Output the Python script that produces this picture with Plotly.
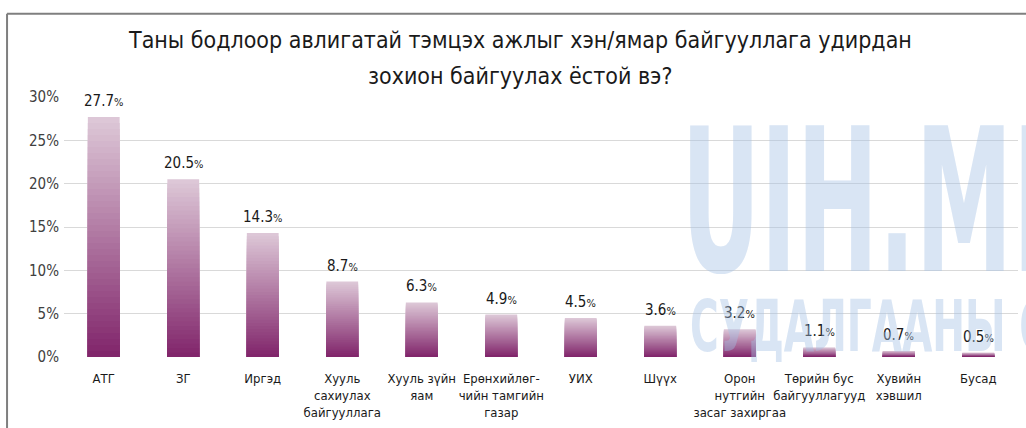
import plotly.graph_objects as go

categories = ["АТГ", "ЗГ", "Иргэд", "Хууль<br>сахиулах<br>байгууллага", "Хууль зүйн<br>яам",
              "Ерөнхийлөг-<br>чийн тамгийн<br>газар", "УИХ", "Шүүх", "Орон<br>нутгийн<br>засаг захиргаа",
              "Төрийн бус<br>байгууллагууд", "Хувийн<br>хэвшил", "Бусад"]
values = [27.7, 20.5, 14.3, 8.7, 6.3, 4.9, 4.5, 3.6, 3.2, 1.1, 0.7, 0.5]
y_ticks = [0, 5, 10, 15, 20, 25, 30]
y_ticklabels = ["0%", "5%", "10%", "15%", "20%", "25%", "30%"]
title_lines = ["Таны бодлоор авлигатай тэмцэх ажлыг хэн/ямар байгууллага удирдан",
               "зохион байгуулах ёстой вэ?"]
watermark_big = "UIH.MN"
watermark_small = "СУДАЛГААНЫ С"

FONT = "DejaVu Sans Condensed, Liberation Sans Narrow, Roboto, sans-serif"
top_rgb = (222, 201, 216)
bot_rgb = (128, 36, 106)
N = 40

fig = go.Figure()
xs = list(range(len(categories)))
for k in range(N):
    frac = (N - k) / N          # this bar covers [0, v*frac]
    t = (N - k - 0.5) / N       # colour position: 1 = top, 0 = bottom
    c = tuple(round(bot_rgb[i] + (top_rgb[i] - bot_rgb[i]) * t) for i in range(3))
    fig.add_trace(go.Bar(
        x=xs, y=[v * frac for v in values],
        marker=dict(color="rgb(%d,%d,%d)" % c, line=dict(width=0)),
        width=0.4, showlegend=False, hoverinfo="skip"))

annotations = []
for i, v in enumerate(values):
    annotations.append(dict(
        x=i, y=v, xref="x", yref="y", yanchor="bottom", yshift=5, showarrow=False,
        text="%.1f<span style='font-size:11px'>%%</span>" % v,
        font=dict(family=FONT, size=15, color="#1a1a1a")))

# watermark
annotations.append(dict(x=0.864, y=0.60, xref="paper", yref="paper", xanchor="center", yanchor="middle",
                        showarrow=False, text=watermark_big,
                        font=dict(family=FONT, size=200, weight=700, color="rgba(165,192,228,0.42)")))
annotations.append(dict(x=0.844, y=0.12, xref="paper", yref="paper", xanchor="center", yanchor="middle",
                        showarrow=False, text=watermark_small,
                        font=dict(family=FONT, size=72, weight=700, color="rgba(165,192,228,0.42)")))

# title
annotations.append(dict(x=0.478, y=1.219, xref="paper", yref="paper", xanchor="center", yanchor="middle",
                        showarrow=False, text=title_lines[0],
                        font=dict(family=FONT, size=23, color="#1a1a1a")))
annotations.append(dict(x=0.478, y=1.081, xref="paper", yref="paper", xanchor="center", yanchor="middle",
                        showarrow=False, text=title_lines[1],
                        font=dict(family=FONT, size=23, color="#1a1a1a")))

shapes = [
    dict(type="line", xref="paper", yref="paper", x0=-0.0597, x1=1.01, y0=1.32, y1=1.32,
         line=dict(color="#7f7f7f", width=2)),
    dict(type="line", xref="paper", yref="paper", x0=-0.0597, x1=-0.0597, y0=1.32, y1=-0.3,
         line=dict(color="#7f7f7f", width=2)),
]

fig.update_layout(
    barmode="overlay",
    width=1026, height=428,
    margin=dict(l=64, r=8, t=97, b=71, autoexpand=False),
    paper_bgcolor="white", plot_bgcolor="white",
    font=dict(family=FONT, color="#333333"),
    annotations=annotations, shapes=shapes,
    xaxis=dict(tickmode="array", tickvals=xs, ticktext=categories, range=[-0.5, len(categories) - 0.5],
               showgrid=False, zeroline=False, showline=False, ticks="", tickangle=0, automargin=False,
               ticklabelstandoff=12,
               tickfont=dict(family=FONT, size=13, color="#1a1a1a")),
    yaxis=dict(range=[0, 30], tickmode="array", tickvals=y_ticks, ticktext=y_ticklabels,
               showgrid=True, gridcolor="#d9d9d9", gridwidth=1, zeroline=False, showline=False,
               ticks="", ticklen=0, automargin=False, ticklabelstandoff=4,
               tickfont=dict(family=FONT, size=15, color="#404040")),
)

post = """
document.body.style.margin = '0';
var gd = document.getElementById('{plot_id}');
gd.querySelectorAll('.annotation-text').forEach(function (t) {
  var s = t.textContent;
  if (s.indexOf('UIH') === 0) { t.setAttribute('textLength', '413'); t.setAttribute('lengthAdjust', 'spacingAndGlyphs'); }
  if (s.indexOf('СУДАЛ') === 0) { t.setAttribute('textLength', '358'); t.setAttribute('lengthAdjust', 'spacingAndGlyphs'); }
});
"""

fig.write_html("out.html", post_script=post, config={"displayModeBar": False})
